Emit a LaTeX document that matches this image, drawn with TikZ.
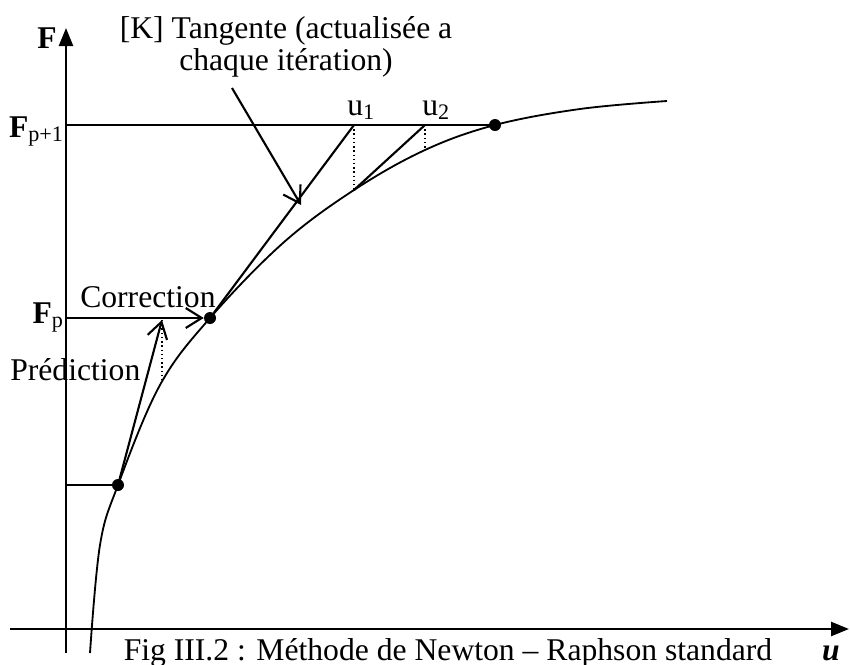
\documentclass[tikz,border=0pt]{standalone}
\usepackage{fontspec}
\setmainfont{Liberation Serif}
\usetikzlibrary{positioning,arrows.meta}

\begin{document}
\begin{tikzpicture}[x=0.025cm, y=-0.025cm, >={Straight Barb[length=4mm,width=5mm]},
    every node/.style={font=\fontsize{22.5}{23}\selectfont, inner sep=0pt},
    dot/.style={circle, fill, inner sep=0pt, minimum size=0.3cm},
    axis/.style={line width=1.8pt, -{Triangle[length=4.5mm,width=3.5mm]}},
    seg/.style={line width=1.5pt},
    guide/.style={line width=1pt, dotted}]
    \useasboundingbox (0,0) rectangle (850,665);
    % axes
    \coordinate (ybot) at (66,653);
    \coordinate (ytop) at (66,28);
    \coordinate (xleft) at (10,629);
    \coordinate (xright) at (849,629);
    \draw[axis] (ybot) -- (ytop);
    \draw[axis] (xleft) -- (xright);
    % curve F(u)
    \draw[line width=1.3pt] plot[smooth, tension=0.6] coordinates {(90,653) (100,545) (118,485) (160,385) (210,318) (283,243) (354,190) (425,150) (495,125) (580,109) (667,101)};
    \node[dot] (pA) at (118,485) {};
    \node[dot] (pB) at (210,318) {};
    \node[dot] (pC) at (495,125) {};
    \coordinate (yA) at (66,485);
    \coordinate (yB) at (66,318);
    \coordinate (yC) at (66,125);
    \coordinate (pred) at (162,320);
    \coordinate (predc) at (162,382);
    \coordinate (u1) at (354,125);
    \coordinate (c1) at (354,190);
    \coordinate (u2) at (425,125);
    \coordinate (c2) at (425,150);
    \coordinate (kfrom) at (232,88);
    \coordinate (kto) at (301,205);
    % iterations
    \draw[seg] (yA) -- (pA);
    \draw[seg, ->] (pA) -- (pred);
    \draw[guide] (pred) -- (predc);
    \draw[seg, ->] (yB) -- (pB);
    \draw[seg] (pB) -- (u1);
    \draw[guide] (u1) -- (c1);
    \draw[seg] (c1) -- (u2);
    \draw[guide] (u2) -- (c2);
    \draw[seg] (yC) -- (pC);
    \draw[seg, ->] (kfrom) -- (kto);
    % labels
    \node[anchor=base west] (lF) at (37,48) {\textbf{F}};
    \node[anchor=base east] (lFp1) at (64,137) {\textbf{F}\textsubscript{p+1}};
    \node[anchor=base east] (lFp) at (64,323) {\textbf{F}\textsubscript{p}};
    \node[anchor=base west] (lcorr) at (80,307) {Correction};
    \node[anchor=base west] (lpred) at (10,380) {Prédiction};
    \node[anchor=base west] (lu1) at (347,115) {u\textsubscript{1}};
    \node[anchor=base west] (lu2) at (422,115) {u\textsubscript{2}};
    \node[align=center] (ltan) at (286,47) {[K] Tangente (actualisée a\\chaque itération)};
    \node[anchor=base] (cap) at (448,660) {Fig III.2 : Méthode de Newton – Raphson standard};
    \node[anchor=base] (lu) at (831,660) {\textbf{\textit{u}}};
\end{tikzpicture}
\end{document}
